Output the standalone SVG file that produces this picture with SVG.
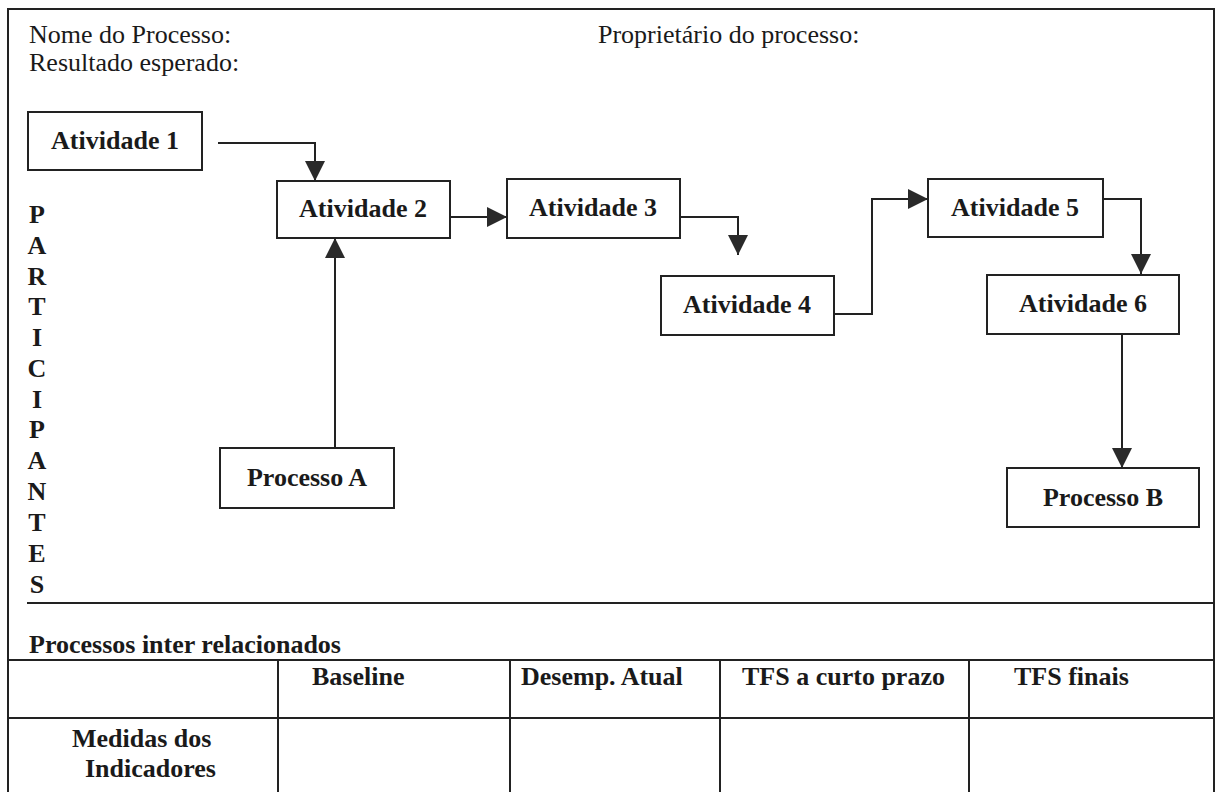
<svg xmlns="http://www.w3.org/2000/svg" width="1216" height="792" viewBox="0 0 1216 792">
  <style>
    .t { font-family: "Liberation Serif", "Times New Roman", serif; font-size: 26px; fill: #1a1a1a; }
    .b { font-weight: bold; }
    .m { text-anchor: middle; }
    .box { fill: #ffffff; stroke: #222222; stroke-width: 2; }
    .rule { stroke: #222222; stroke-width: 2; fill: none; }
    .conn { stroke: #222222; stroke-width: 2; fill: none; marker-end: url(#arrow); }
  </style>
  <defs>
    <marker id="arrow" markerUnits="userSpaceOnUse" markerWidth="20" markerHeight="20" refX="20" refY="10" orient="auto">
      <path d="M0,0 L20,10 L0,20 Z" fill="#2a2a2a"/>
    </marker>
  </defs>

  <rect width="1216" height="792" fill="#ffffff"/>

  <!-- form frame and rules -->
  <g id="frame">
    <path class="rule" d="M8,800 V9 H1214 V800"/>
    <line class="rule" x1="27" y1="603" x2="1214" y2="603"/>
  </g>

  <!-- header fields -->
  <g id="header">
    <text class="t" x="29" y="43">Nome do Processo:</text>
    <text class="t" x="29" y="71">Resultado esperado:</text>
    <text class="t" x="598" y="43">Proprietário do processo:</text>
  </g>

  <!-- vertical lane label -->
  <g id="participantes">
    <text class="t b m" x="37" y="223">P</text>
    <text class="t b m" x="37" y="254">A</text>
    <text class="t b m" x="37" y="285">R</text>
    <text class="t b m" x="37" y="315">T</text>
    <text class="t b m" x="37" y="346">I</text>
    <text class="t b m" x="37" y="377">C</text>
    <text class="t b m" x="37" y="408">I</text>
    <text class="t b m" x="37" y="438">P</text>
    <text class="t b m" x="37" y="469">A</text>
    <text class="t b m" x="37" y="500">N</text>
    <text class="t b m" x="37" y="531">T</text>
    <text class="t b m" x="37" y="562">E</text>
    <text class="t b m" x="37" y="593">S</text>
  </g>

  <!-- connectors -->
  <g id="connectors">
    <path class="conn" d="M218,143 H315 V181"/>
    <path class="conn" d="M335,448 V238"/>
    <path class="conn" d="M450,217 H507"/>
    <path class="conn" d="M680,217 H738 V255"/>
    <path class="conn" d="M834,314 H872 V199 H928"/>
    <path class="conn" d="M1103,199 H1141 V274"/>
    <path class="conn" d="M1122,334 V468"/>
  </g>

  <!-- process nodes -->
  <g id="atividade1">
    <rect class="box" x="28" y="112" width="174" height="58"/>
    <text class="t b m" x="115" y="149">Atividade 1</text>
  </g>
  <g id="atividade2">
    <rect class="box" x="277" y="181" width="173" height="57"/>
    <text class="t b m" x="363" y="217">Atividade 2</text>
  </g>
  <g id="atividade3">
    <rect class="box" x="507" y="179" width="173" height="59"/>
    <text class="t b m" x="593" y="216">Atividade 3</text>
  </g>
  <g id="atividade4">
    <rect class="box" x="661" y="276" width="173" height="59"/>
    <text class="t b m" x="747" y="313">Atividade 4</text>
  </g>
  <g id="atividade5">
    <rect class="box" x="928" y="179" width="175" height="58"/>
    <text class="t b m" x="1015" y="216">Atividade 5</text>
  </g>
  <g id="atividade6">
    <rect class="box" x="987" y="275" width="192" height="59"/>
    <text class="t b m" x="1083" y="312">Atividade 6</text>
  </g>
  <g id="processoA">
    <rect class="box" x="220" y="448" width="174" height="60"/>
    <text class="t b m" x="307" y="486">Processo A</text>
  </g>
  <g id="processoB">
    <rect class="box" x="1007" y="468" width="192" height="59"/>
    <text class="t b m" x="1103" y="506">Processo B</text>
  </g>

  <!-- indicator table -->
  <g id="tabela">
    <text class="t b" x="29" y="653">Processos inter relacionados</text>
    <line class="rule" x1="8" y1="660" x2="1214" y2="660"/>
    <line class="rule" x1="8" y1="718" x2="1214" y2="718"/>
    <line class="rule" x1="278" y1="660" x2="278" y2="800"/>
    <line class="rule" x1="510" y1="660" x2="510" y2="800"/>
    <line class="rule" x1="720" y1="660" x2="720" y2="800"/>
    <line class="rule" x1="969" y1="660" x2="969" y2="800"/>
    <text class="t b" x="312" y="685">Baseline</text>
    <text class="t b" x="521" y="685">Desemp. Atual</text>
    <text class="t b" x="742" y="685">TFS a curto prazo</text>
    <text class="t b" x="1014" y="685">TFS finais</text>
    <text class="t b" x="72" y="747">Medidas dos</text>
    <text class="t b" x="85" y="777">Indicadores</text>
  </g>
</svg>
